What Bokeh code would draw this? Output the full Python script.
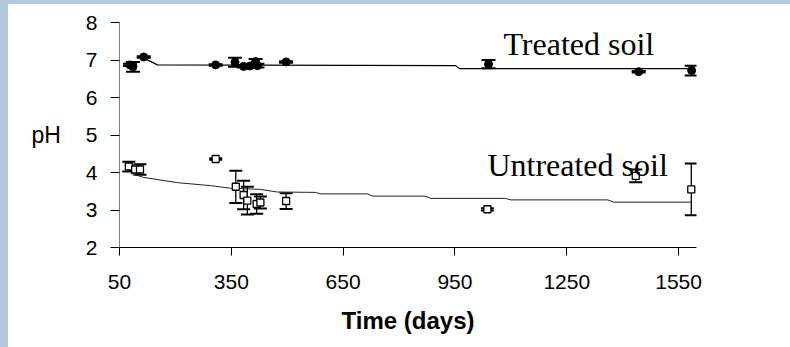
from bokeh.plotting import figure
from bokeh.models import Range1d, Whisker, TeeHead, ColumnDataSource, Label, FixedTicker, Spacer
from bokeh.layouts import row, column
from bokeh.embed import file_html
from bokeh.resources import INLINE

# --- data ---
treated_days = [78, 86, 115, 308, 360, 383, 400, 415, 420, 497, 1040, 1443, 1585]
treated_ph   = [6.87, 6.82, 7.08, 6.87, 6.94, 6.83, 6.84, 6.96, 6.85, 6.95, 6.89, 6.69, 6.72]
treated_err  = [0.03, 0.13, 0.02, 0.02, 0.12, 0.03, 0.03, 0.07, 0.05, 0.02, 0.11, 0.02, 0.13]

untreated_days = [75, 92, 105, 308, 362, 383, 393, 418, 428, 497, 1037, 1435, 1584]
untreated_ph   = [4.16, 4.08, 4.08, 4.36, 3.62, 3.40, 3.25, 3.16, 3.20, 3.24, 3.02, 3.91, 3.55]
untreated_err  = [0.13, 0.03, 0.14, 0.02, 0.43, 0.38, 0.37, 0.26, 0.16, 0.21, 0.03, 0.17, 0.69]

treated_fit_days = [115, 152, 952, 962, 1590]
treated_fit_ph   = [7.05, 6.87, 6.85, 6.77, 6.77]

untreated_fit_days = [80, 114, 205, 294, 348, 428, 473, 575, 590, 715, 730, 870, 885,
                      1085, 1100, 1360, 1375, 1586]
untreated_fit_ph   = [3.98, 3.87, 3.73, 3.65, 3.58, 3.55, 3.48, 3.47, 3.43, 3.43, 3.37,
                      3.37, 3.31, 3.31, 3.27, 3.27, 3.21, 3.21]

x_ticks = [50, 350, 650, 950, 1250, 1550]
y_ticks = [2, 3, 4, 5, 6, 7, 8]

BG = "#b2c9de"

p = figure(width=782, height=343, output_backend="svg", toolbar_location=None,
           x_range=Range1d(50, 1598), y_range=Range1d(2, 8),
           min_border_left=111, min_border_right=94, min_border_top=18, min_border_bottom=100)
p.outline_line_color = None
p.xgrid.visible = False
p.ygrid.visible = False
p.background_fill_color = "white"
p.border_fill_color = "white"

for ax in (p.xaxis[0], p.yaxis[0]):
    ax.major_label_text_font = "Liberation Sans"
    ax.major_label_text_font_size = "21px"
    ax.major_label_text_color = "black"
    ax.minor_tick_line_color = None
    ax.major_tick_in = 0
    ax.major_tick_line_color = "black"
    ax.major_tick_line_width = 1

p.xaxis.ticker = FixedTicker(ticks=x_ticks)
p.yaxis.ticker = FixedTicker(ticks=y_ticks)
p.xaxis.major_tick_out = 8
p.xaxis.major_label_standoff = 19
p.xaxis.axis_line_color = "black"
p.xaxis.axis_line_width = 1
p.xaxis.axis_label = "Time (days)"
p.xaxis.axis_label_text_font = "Liberation Sans"
p.xaxis.axis_label_text_font_style = "bold"
p.xaxis.axis_label_text_font_size = "24px"
p.xaxis.axis_label_text_color = "black"
p.xaxis.axis_label_standoff = 15

p.yaxis.major_tick_out = 9
p.yaxis.major_label_standoff = 13
p.yaxis.axis_line_color = "#808080"
p.yaxis.axis_line_width = 1
p.yaxis.axis_label = "pH"
p.yaxis.axis_label_orientation = "horizontal"
p.yaxis.axis_label_text_font = "Liberation Sans"
p.yaxis.axis_label_text_font_style = "normal"
p.yaxis.axis_label_text_font_size = "23px"
p.yaxis.axis_label_text_color = "black"
p.yaxis.axis_label_standoff = 22

# fitted lines
p.line(treated_fit_days, treated_fit_ph, line_color="black", line_width=1.2)
p.line(untreated_fit_days, untreated_fit_ph, line_color="#222222", line_width=1)

# error bars
t_src = ColumnDataSource(dict(x=treated_days, y=treated_ph,
                              lo=[v - e for v, e in zip(treated_ph, treated_err)],
                              hi=[v + e for v, e in zip(treated_ph, treated_err)]))
u_src = ColumnDataSource(dict(x=untreated_days, y=untreated_ph,
                              lo=[v - e for v, e in zip(untreated_ph, untreated_err)],
                              hi=[v + e for v, e in zip(untreated_ph, untreated_err)]))

for src, cap in ((t_src, 14), (u_src, 13)):
    w = Whisker(source=src, base="x", lower="lo", upper="hi", dimension="height",
                line_color="black", line_width=1.3,
                upper_head=TeeHead(size=cap, line_color="black", line_width=2),
                lower_head=TeeHead(size=cap, line_color="black", line_width=2))
    p.add_layout(w)

p.scatter("x", "y", source=t_src, marker="circle", size=8,
          fill_color="black", line_color="black")
p.scatter("x", "y", source=u_src, marker="square", size=7,
          fill_color="white", line_color="black", line_width=1.3)

p.add_layout(Label(x=1080, y=7.43, text="Treated soil", text_font="Liberation Serif",
                   text_font_size="32px", text_color="black", text_baseline="alphabetic"))
p.add_layout(Label(x=1037, y=4.19, text="Untreated soil", text_font="Liberation Serif",
                   text_font_size="32px", text_color="black", text_baseline="alphabetic"))

left_strip = Spacer(width=8, height=347, styles={"background-color": BG})
top_strip = Spacer(width=782, height=4, styles={"background-color": BG})
layout = row(left_strip, column(top_strip, p, spacing=0), spacing=0)

open("out.html", "w").write(file_html(layout, INLINE))
